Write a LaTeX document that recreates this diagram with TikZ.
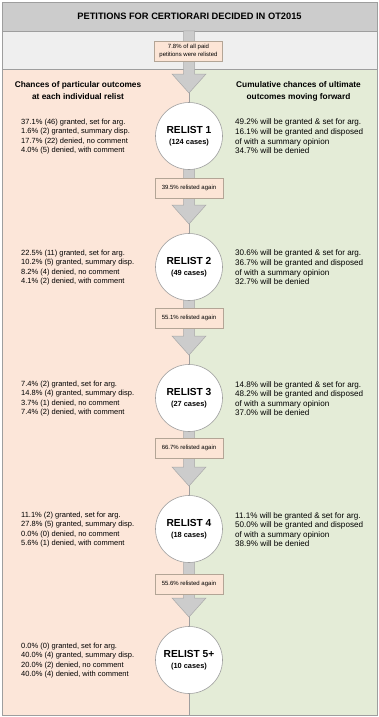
\documentclass[tikz,border=0pt]{standalone}
\usepackage{fontspec}
\setmainfont{Liberation Sans}
\usetikzlibrary{calc}
\definecolor{titlegray}{HTML}{CCCCCC}
\definecolor{bandgray}{HTML}{EFEFEF}
\definecolor{peach}{HTML}{FCE6D9}
\definecolor{sage}{HTML}{E4ECD7}
\definecolor{linegray}{HTML}{9E9E9E}
\definecolor{arrowfill}{HTML}{CCCCCC}
\definecolor{arrowline}{HTML}{A8A8A8}
\definecolor{boxline}{HTML}{B3A596}
\definecolor{boxfill}{HTML}{FCE5D6}
\tikzset{
  relist/.style={circle, draw=linegray, fill=white, line width=0.6pt, minimum size=67pt, inner sep=0pt, align=center},
  lbl/.style={draw=boxline, fill=boxfill, line width=0.6pt, minimum width=68pt, minimum height=20pt, inner sep=1pt, align=center, font=\fontsize{6}{7.5}\selectfont},
  lefttext/.style={anchor=west, align=left, inner sep=0pt, font=\fontsize{7.5}{9.5}\selectfont},
  righttext/.style={anchor=west, align=left, inner sep=0pt, font=\fontsize{8.1}{9.6}\selectfont},
  header/.style={align=center, inner sep=0pt, font=\bfseries\fontsize{8.3}{12}\selectfont},
  blockarrow/.style={fill=arrowfill, draw=arrowline, line width=0.5pt},
}
\newcommand{\rl}[2]{{\bfseries\fontsize{10.2}{12}\selectfont #1}\\[-1.5pt]{\bfseries\fontsize{7.4}{9}\selectfont #2}}
\begin{document}
\begin{tikzpicture}[x=1pt,y=-1pt]
\useasboundingbox (0,0) rectangle (379,717);
% backgrounds
\fill[titlegray] (2,2) rectangle (377,31);
\fill[bandgray] (2,31) rectangle (377,69);
\fill[peach] (2,69) rectangle (189,715);
\fill[sage] (189,69) rectangle (377,715);
\draw[linegray, line width=0.6pt] (2,31) -- (377,31);
\draw[linegray, line width=0.6pt] (2,69) -- (377,69);
\draw[linegray, line width=0.6pt] (189,69) -- (189,715);
\draw[linegray, line width=0.8pt] (2,2) rectangle (377,715);
% title
\node[font=\bfseries\fontsize{9.3}{11}\selectfont] (title) at (189.5,16.5) {PETITIONS FOR CERTIORARI DECIDED IN OT2015};
% headers
\node[header] (hl) at (78,91) {Chances of particular outcomes\\at each individual relist};
\node[header] (hr) at (298.5,91) {Cumulative chances of ultimate\\outcomes moving forward};
% circle centres
\coordinate (top) at (189,31);
\path (189,136) coordinate (c1) (189,267) coordinate (c2) (189,398) coordinate (c3) (189,529) coordinate (c4) (189,660) coordinate (c5);
% arrows
\newcommand{\barrow}[2]{%
  \path[blockarrow] ($(#1)+(-5.5,0)$) -- ($(#2)+(-5.5,-62)$) -- ($(#2)+(-17,-62)$) -- ($(#2)+(0,-43)$) -- ($(#2)+(17,-62)$) -- ($(#2)+(5.5,-62)$) -- ($(#1)+(5.5,0)$) -- cycle;}
\barrow{top}{c1}
\barrow{c1}{c2}
\barrow{c2}{c3}
\barrow{c3}{c4}
\barrow{c4}{c5}
% label boxes
\node[lbl] (l0) at (188.5,51) {7.8\% of all paid\\petitions were relisted};
\node[lbl] (l1) at (189,188) {39.5\% relisted again};
\node[lbl] (l2) at (189,318) {55.1\% relisted again};
\node[lbl] (l3) at (189,448) {66.7\% relisted again};
\node[lbl] (l4) at (189,584) {55.6\% relisted again};
% circles
\node[relist] (r1) at (c1) {\rl{RELIST 1}{(124 cases)}};
\node[relist] (r2) at (c2) {\rl{RELIST 2}{(49 cases)}};
\node[relist] (r3) at (c3) {\rl{RELIST 3}{(27 cases)}};
\node[relist] (r4) at (c4) {\rl{RELIST 4}{(18 cases)}};
\node[relist] (r5) at (c5) {\rl{RELIST 5+}{(10 cases)}};
% left texts
\node[lefttext] (a1) at (21,136.5) {37.1\% (46) granted, set for arg.\\1.6\% (2) granted, summary disp.\\17.7\% (22) denied, no comment\\4.0\% (5) denied, with comment};
\node[lefttext] (a2) at (21,267.5) {22.5\% (11) granted, set for arg.\\10.2\% (5) granted, summary disp.\\8.2\% (4) denied, no comment\\4.1\% (2) denied, with comment};
\node[lefttext] (a3) at (21,398.5) {7.4\% (2) granted, set for arg.\\14.8\% (4) granted, summary disp.\\3.7\% (1) denied, no comment\\7.4\% (2) denied, with comment};
\node[lefttext] (a4) at (21,529.5) {11.1\% (2) granted, set for arg.\\27.8\% (5) granted, summary disp.\\0.0\% (0) denied, no comment\\5.6\% (1) denied, with comment};
\node[lefttext] (a5) at (21,660.5) {0.0\% (0) granted, set for arg.\\40.0\% (4) granted, summary disp.\\20.0\% (2) denied, no comment\\40.0\% (4) denied, with comment};
% right texts
\node[righttext] (b1) at (235,136.5) {49.2\% will be granted \& set for arg.\\16.1\% will be granted and disposed\\of with a summary opinion\\34.7\% will be denied};
\node[righttext] (b2) at (235,267.5) {30.6\% will be granted \& set for arg.\\36.7\% will be granted and disposed\\of with a summary opinion\\32.7\% will be denied};
\node[righttext] (b3) at (235,398.5) {14.8\% will be granted \& set for arg.\\48.2\% will be granted and disposed\\of with a summary opinion\\37.0\% will be denied};
\node[righttext] (b4) at (235,529.5) {11.1\% will be granted \& set for arg.\\50.0\% will be granted and disposed\\of with a summary opinion\\38.9\% will be denied};
\end{tikzpicture}
\end{document}
